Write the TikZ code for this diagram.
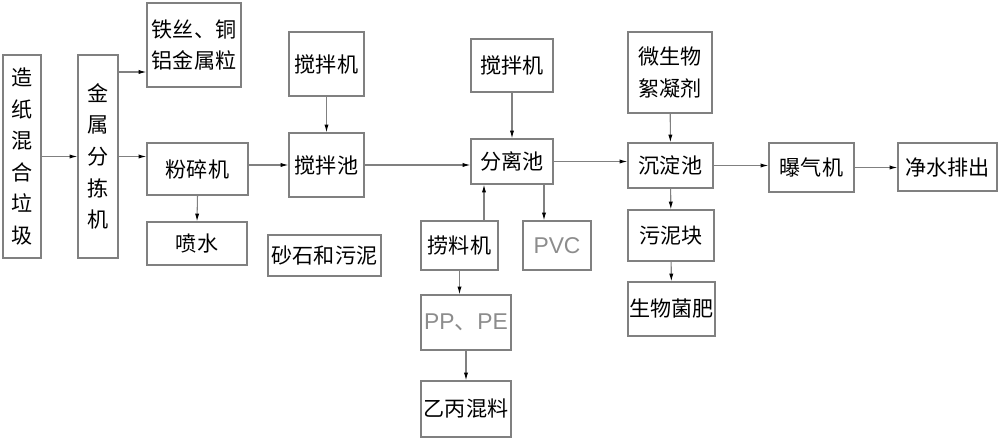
\documentclass[tikz,border=0pt]{standalone}
\usepackage{fontspec}
\setmainfont{Noto Sans CJK SC}
\newfontfamily\latinfont{Liberation Sans}
\usetikzlibrary{arrows.meta}

\tikzset{
blk/.style n args = {2}{
	draw=black!50, line width=0.6pt, inner sep=0pt, align=center,
	minimum width=#1cm, minimum height=#2cm,
	font=\fontsize{12}{18}\selectfont
	},
flow/.style = {draw=black!50, line width=0.6pt, -{Latex[length=4.5pt,width=2.4pt,color=black]}},
grey/.style = {text=black!45, font=\fontsize{13}{15}\selectfont}
}

\begin{document}
\begin{tikzpicture}[x=0.02cm, y=-0.02cm]
\useasboundingbox (0,0) rectangle (1000,438);

% sorting and crushing
\node[blk={0.76}{4.06}] (trash) at (22,156.5) {造\\纸\\混\\合\\垃\\圾};
\node[blk={0.80}{4.06}] (sorter) at (98,156.5) {金\\属\\分\\拣\\机};
\node[blk={1.88}{1.68}] (metal) at (194,45) {铁丝、铜\\铝金属粒};
\node[blk={2.02}{1.04}] (crusher) at (197.5,169) {粉碎机};
\node[blk={2.00}{0.86}] (spray) at (197,243.5) {喷水};

% mixing
\node[blk={1.50}{1.28}] (mixer1) at (326.5,64) {搅拌机};
\node[blk={1.50}{1.28}] (mixpool) at (326.5,165) {搅拌池};
\node[blk={2.26}{0.82}] (sand) at (324.5,255.5) {砂石和污泥};

% separation
\node[blk={1.64}{1.06}] (mixer2) at (512,65.5) {搅拌机};
\node[blk={1.64}{0.90}] (seppool) at (512,161.5) {分离池};
\node[blk={1.54}{0.98}] (skimmer) at (459.5,245.5) {捞料机};
\node[blk={1.36}{0.98}, grey] (pvc) at (557,245.5) {\latinfont PVC};
\node[blk={1.80}{1.10}, grey] (pppe) at (466,322.5) {\latinfont PP\rmfamily 、\latinfont PE};
\node[blk={1.80}{1.12}] (epmix) at (466,409) {乙丙混料};

% settling and aeration
\node[blk={1.68}{1.62}] (floc) at (670,72.5) {微生物\\絮凝剂};
\node[blk={1.70}{0.90}] (settle) at (670.5,165.5) {沉淀池};
\node[blk={1.72}{1.02}] (sludge) at (671,235.5) {污泥块};
\node[blk={1.74}{1.08}] (fert) at (671.5,309) {生物菌肥};
\node[blk={1.70}{0.98}] (aerator) at (811.5,167.5) {曝气机};
\node[blk={1.98}{0.96}] (clean) at (947.5,167) {净水排出};

% main line
\draw[flow] (trash) -- (sorter);
\coordinate (m) at ([yshift=-0.54cm]metal.west);
\draw[flow] (m -| sorter.east) -- (m);
\draw[flow] (sorter.east) -- (sorter.east -| crusher.west);
\draw[flow] (crusher.south) -- (spray.north);
\draw[flow] (mixpool.west -| crusher.east) -- (mixpool.west);
\draw[flow] (mixer1) -- (mixpool);
\draw[flow] (mixpool.east) -- (mixpool.east -| seppool.west);
\draw[flow] (mixer2) -- (seppool);
\draw[flow] (seppool.east) -- (seppool.east -| settle.west);
\draw[flow] (settle.east) -- (settle.east -| aerator.west);
\draw[flow] (aerator.east) -- (aerator.east -| clean.west);

% side branches
\coordinate (sk) at ([xshift=0.49cm]skimmer.north);
\draw[flow] (sk) -- (sk |- seppool.south);
\coordinate (pv) at ([xshift=-0.26cm]pvc.north);
\draw[flow] (pv |- seppool.south) -- (pv);
\draw[flow] (skimmer.south) -- (skimmer.south |- pppe.north);
\draw[flow] (pppe) -- (epmix);
\draw[flow] (floc) -- (settle);
\draw[flow] (settle) -- (sludge);
\draw[flow] (sludge) -- (fert);
\end{tikzpicture}
\end{document}
